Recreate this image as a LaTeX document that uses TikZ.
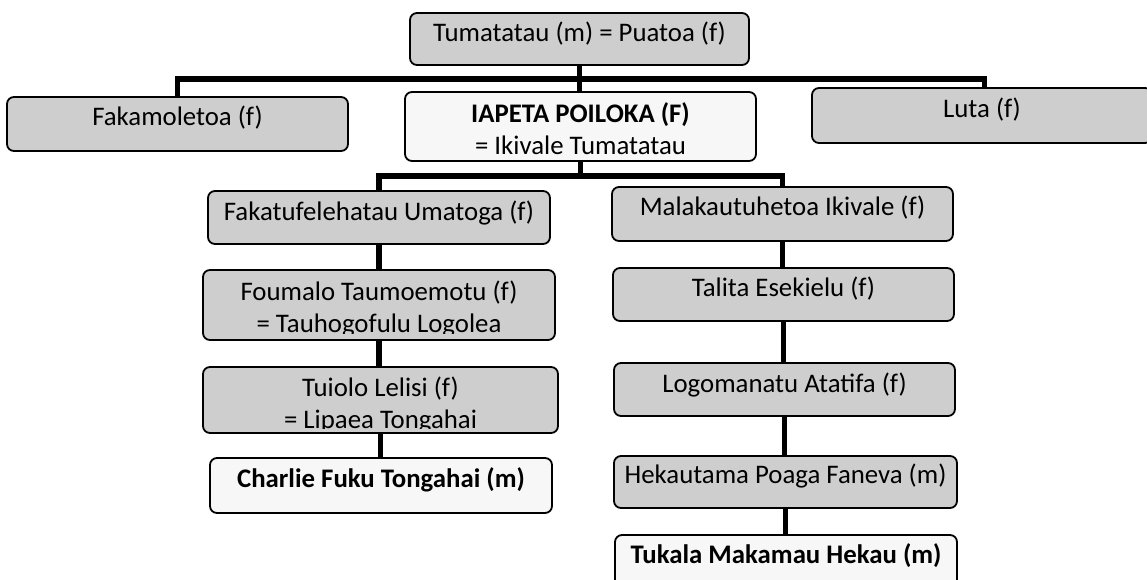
\documentclass[tikz,border=0pt]{standalone}
\usepackage{fontspec}
\setmainfont{Carlito}
\definecolor{boxgray}{RGB}{206,206,206}
\definecolor{boxwhite}{RGB}{247,247,247}
\newcommand\bx[2]{\smash{\raisebox{-#1pt}{#2}}}
\newcommand\twol[2]{\begin{tabular}[t]{@{}c@{}}#1\\#2\end{tabular}}
\begin{document}
\begin{tikzpicture}[x=1pt,y=-1pt,
  box/.style={draw=black, line width=1.8pt, rounded corners=7pt, fill=boxgray,
    inner sep=0pt, font=\fontsize{26.8}{32}\selectfont},
  wbox/.style={box, fill=boxwhite},
  conn/.style={draw=black, line width=5.5pt},
  txt/.style={inner sep=0pt, font=\fontsize{26.8}{32}\selectfont}]
\clip (0,0) rectangle (1147,580);
% generation 1
\node[box, minimum width=339pt, minimum height=52pt] (top) at (579.5,39) {\bx{3}{Tumatatau (m) = Puatoa (f)}};
% generation 2
\node[box, minimum width=341pt, minimum height=54pt] (fak) at (177.5,124) {\bx{2}{Fakamoletoa (f)}};
\node[wbox, minimum width=351pt, minimum height=69pt] (iap) at (580.5,126.5) {\bx{-3.5}{\twol{\textbf{IAPETA POILOKA (F)}}{= Ikivale Tumatatau}}};
\node[box, minimum width=340pt, minimum height=55pt] (luta) at (982,115.5) {\bx{2.5}{Luta (f)}};
% generation 3, left line
\node[box, minimum width=342pt, minimum height=53pt] (fakat) at (379,217.5) {\bx{2.5}{Fakatufelehatau Umatoga (f)}};
\node[box, minimum width=352pt, minimum height=70pt,
  path picture={\clip (path picture bounding box.north west) rectangle ([yshift=7pt]path picture bounding box.south east);
    \node[txt] (foumt) at (path picture bounding box.center) {\bx{-5}{\twol{Foumalo Taumoemotu (f)}{= Tauhogofulu Logolea}}};}] (foum) at (379,305) {};
\node[box, minimum width=355pt, minimum height=66pt,
  path picture={\clip (path picture bounding box.north west) rectangle ([yshift=5pt]path picture bounding box.south east);
    \node[txt] (tuiot) at (path picture bounding box.center) {\bx{-4}{\twol{Tuiolo Lelisi (f)}{= Lipaea Tongahai}}};}] (tuio) at (380.5,400) {};
\node[wbox, minimum width=342pt, minimum height=55pt] (charlie) at (381,485.5) {\bx{1.5}{\textbf{Charlie Fuku Tongahai (m)}}};
% generation 3, right line
\node[box, minimum width=341pt, minimum height=54pt] (mala) at (782.5,214) {\bx{1}{Malakautuhetoa Ikivale (f)}};
\node[box, minimum width=341pt, minimum height=53pt] (talita) at (783.5,294.5) {\bx{1.5}{Talita Esekielu (f)}};
\node[box, minimum width=341pt, minimum height=53pt] (logo) at (784.5,389.5) {\bx{2.5}{Logomanatu Atatifa (f)}};
\node[box, minimum width=343pt, minimum height=52pt] (heka) at (785.5,482) {\bx{1}{Hekautama Poaga Faneva (m)}};
\node[wbox, minimum width=342pt, minimum height=65pt] (tukala) at (786,567.5) {\bx{-4.5}{\textbf{Tukala Makamau Hekau (m)}}};
% connectors
\coordinate (j1) at (580,79);
\coordinate (j2) at (580.5,176);
\draw[conn] (top.south) -- (top.south |- iap.north);
\draw[conn] (fak.north) |- (j1) -| ([xshift=2.5pt]luta.north);
\draw[conn] (iap.south) -- (j2);
\draw[conn] (fakat.north) |- (j2) -| (mala.north);
\draw[conn] (fakat.south) -- (fakat.south |- foum.north);
\draw[conn] (foum.south) -- (foum.south |- tuio.north);
\draw[conn] (tuio.south) -- (tuio.south |- charlie.north);
\draw[conn] (mala.south) -- (mala.south |- talita.north);
\draw[conn] (talita.south) -- (talita.south |- logo.north);
\draw[conn] (logo.south) -- (logo.south |- heka.north);
\draw[conn] (heka.south) -- (heka.south |- tukala.north);
\end{tikzpicture}
\end{document}
